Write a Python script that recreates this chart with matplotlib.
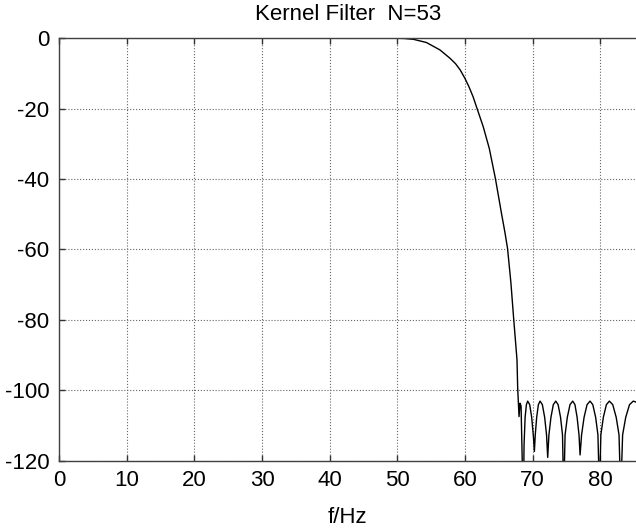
import numpy as np
import matplotlib.pyplot as plt

plt.rcParams['font.family'] = ['Liberation Sans', 'DejaVu Sans']
plt.rcParams['axes.unicode_minus'] = False

# magnitude response (f in Hz, gain in dB)
freq_hz = [0.0, 50.0, 51.0, 52.4, 54.3, 56.3, 57.8, 58.6, 59.3, 60.0, 60.6,
           61.2, 61.8, 62.7, 63.6, 64.5, 65.4, 65.9, 66.3, 66.8, 67.2, 67.7,
           67.8, 68.0, 68.15, 68.3, 68.64,
           68.74, 68.90, 69.09, 69.28, 69.58, 69.87, 70.12, 70.27,
           70.40, 70.61, 70.86, 71.11, 71.45, 71.79, 72.07, 72.24,
           72.42, 72.72, 73.07, 73.43, 73.78, 74.14, 74.43, 74.61,
           74.81, 75.14, 75.54, 75.94, 76.27, 76.59, 76.87, 77.03,
           77.25, 77.62, 78.06, 78.50, 78.91, 79.33, 79.67, 79.90,
           80.10, 80.47, 80.92, 81.36, 81.86, 82.37, 82.79, 83.04,
           83.32, 83.78, 84.34, 84.90, 85.5]
gain_db = [0.0, 0.0, -0.05, -0.3, -1.2, -3.3, -5.7, -7.2, -9.0, -11.4, -13.8,
           -16.6, -20.0, -25.1, -31.3, -39.8, -49.7, -55.0, -59.7, -69.5, -79.5,
           -91.4, -99.4, -107.5, -103.7, -104.5, -135.0,
           -115.7, -107.7, -104.1, -103.1, -104.1, -107.7, -113.0, -117.4,
           -112.7, -107.7, -104.1, -103.1, -104.1, -107.7, -112.7, -119.1,
           -112.7, -107.7, -104.1, -103.1, -104.1, -107.7, -112.7, -130.0,
           -112.7, -107.7, -104.1, -103.1, -104.1, -107.7, -112.7, -118.4,
           -112.7, -107.7, -104.1, -103.1, -104.1, -107.7, -112.7, -130.0,
           -112.7, -107.7, -104.1, -103.1, -104.1, -107.7, -112.7, -130.0,
           -112.7, -107.7, -104.1, -103.1, -103.5]

x_ticks = [0, 10, 20, 30, 40, 50, 60, 70, 80]
y_ticks = [-120, -100, -80, -60, -40, -20, 0]

fig = plt.figure(figsize=(6.36, 5.31), dpi=100)
ax = fig.add_axes([0.0932, 0.1326, 0.9068, 0.7953])

ax.plot(freq_hz, gain_db, color='black', lw=1.0)

ax.set_xlim(0, 85.3)
ax.set_ylim(-120, 0)
ax.set_xticks(x_ticks)
ax.set_yticks(y_ticks)
ax.tick_params(direction='in', length=4, width=1, color='0.2',
               top=True, right=False, labelsize=16, pad=7)
ax.grid(True, linestyle=':', color='0.4', lw=0.8)
for side in ['left', 'bottom', 'top']:
    ax.spines[side].set_color('0.25')
    ax.spines[side].set_linewidth(1.0)
ax.spines['right'].set_visible(False)

ax.set_title('Kernel Filter  N=53', fontsize=16, pad=13)
ax.set_xlabel('f/Hz', fontsize=16, labelpad=11)

fig.savefig('out.png', dpi=100)
